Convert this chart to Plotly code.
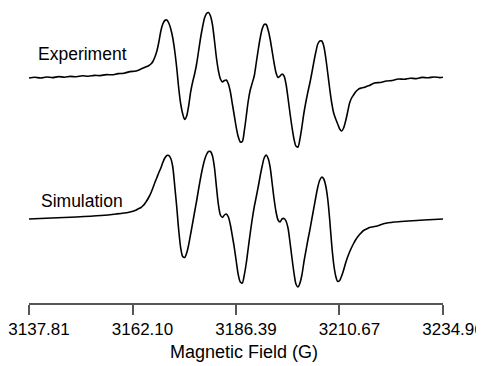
import plotly.graph_objects as go

# ---- Data (field in G, intensity in arbitrary units) ----
# Experiment: left baseline
exp_left_field = [3137.74, 3139.14, 3140.54, 3141.94, 3143.34, 3144.73, 3146.13, 3147.53, 3148.93, 3150.33,
                  3151.73, 3153.13, 3154.53, 3155.93, 3157.32, 3158.72, 3160.12, 3161.52, 3162.92, 3164.32]
exp_left_int = [0.0, 0.7, 0.0, 1.0, 0.4, 1.4, 0.8, 1.6, 1.2, 2.2,
                1.7, 2.6, 2.4, 3.4, 3.2, 4.4, 4.8, 6.4, 7.0, 9.4]

# Signal region field samples (shared by both spectra)
signal_field = [3165.48, 3165.95, 3166.42, 3166.88, 3167.35, 3167.82, 3168.28, 3168.75, 3169.21, 3169.68,
                3170.15, 3170.61, 3171.08, 3171.55, 3172.01, 3172.48, 3172.94, 3173.41, 3173.88, 3174.34,
                3174.81, 3175.27, 3175.74, 3176.21, 3176.67, 3177.14, 3177.61, 3178.07, 3178.54, 3179.00,
                3179.47, 3179.94, 3180.40, 3180.87, 3181.34, 3181.80, 3182.27, 3182.73, 3183.20, 3183.67,
                3184.13, 3184.60, 3185.07, 3185.53, 3186.00, 3186.47, 3186.93, 3187.40, 3187.86, 3188.33,
                3188.80, 3189.26, 3189.73, 3190.20, 3190.66, 3191.13, 3191.59, 3192.06, 3192.53, 3192.99,
                3193.46, 3193.93, 3194.39, 3194.86, 3195.32, 3195.79, 3196.26, 3196.72, 3197.19, 3197.66,
                3198.12, 3198.59, 3199.05, 3199.52, 3199.99, 3200.45, 3200.92, 3201.39, 3201.85, 3202.32,
                3202.78, 3203.25, 3203.72, 3204.18, 3204.65, 3205.12, 3205.58, 3206.05, 3206.52, 3206.98,
                3207.45, 3207.91, 3208.38, 3208.85, 3209.31, 3209.78, 3210.25, 3210.71, 3211.18, 3211.64,
                3212.11, 3212.58, 3213.04, 3213.51, 3213.98, 3214.44, 3214.91, 3215.38, 3215.84, 3216.31,
                3216.77, 3217.24, 3217.71]

exp_signal_int = [11.5, 12.5, 14, 16.5, 21, 27, 36, 47, 54, 57.5,
                  58, 55, 49, 40, 27, 10, -10, -26, -36, -41.5,
                  -38, -28, -14, -4, 4, 14, 27, 40, 51, 60,
                  64.5, 65.5, 62, 53, 37, 20, 7, -1, -4, -2.5,
                  -2, -6, -14, -26, -38, -50, -59, -64, -63.5, -53,
                  -38, -23, -12, -5, 2, 15, 28, 40, 49, 53.5,
                  53.5, 48, 39, 27, 15, 5, 0.5, 2, 4, 2,
                  -6, -20, -35, -49, -61, -68, -69, -61, -49, -35,
                  -24, -14, -5, 5, 16, 26, 34, 37, 37, 32,
                  20, 5, -11, -25, -35, -41, -46, -51, -53, -50,
                  -43, -34, -25, -20, -17, -14, -12, -10.5, -10, -9.5,
                  -9, -8, -7.5]

exp_tail_field = [3218.87, 3220.27, 3221.67, 3223.07, 3224.47, 3225.87, 3227.27, 3228.66, 3230.06,
                  3231.46, 3232.86, 3234.26, 3234.96]
exp_tail_int = [-5.0, -4.5, -3.0, -2.5, -1.0, -1.3, -0.2, -0.6, 0.6, 0.2, 1.0, 0.4, 0.8]

# Simulation
sim_left_field = [3137.74, 3143.10, 3148.93, 3154.76, 3158.26, 3161.05, 3161.99, 3162.69, 3163.38,
                  3164.08, 3164.55, 3165.02]
sim_left_int = [0, 1, 2, 3.5, 5, 6.5, 7.5, 8.5, 10, 11.5, 13.2, 15.6]

sim_signal_int = [18.5, 22, 26, 31, 36.5, 41.5, 46.5, 51, 56.5, 61,
                  63.5, 63.5, 60.5, 52, 33, 12, -11, -29, -37.5, -38.5,
                  -34, -26, -15, -4, 7, 18, 30, 41, 51, 59,
                  64.5, 67.5, 67.5, 63, 51, 32, 14, 4, 1.5, 4,
                  5, 2, -6, -17, -29, -43, -56, -63, -64, -56,
                  -44, -29, -14, 0, 12, 22, 32, 43, 53, 61,
                  64, 60.5, 52, 36, 20, 7, -1, -3, 0, 0.5,
                  -2, -9, -23, -39, -54, -65, -68, -64, -56, -43,
                  -32, -21, -11, 0, 11, 22, 32, 39, 42, 40,
                  33, 20, -1, -26, -45, -57, -62.5, -61.5, -57, -51,
                  -44, -38, -33, -28.5, -24.5, -21, -18, -15.5, -13.5, -11.5,
                  -10.5, -9.5, -8.5]

sim_tail_field = [3219.57, 3221.20, 3223.54, 3226.80, 3230.53, 3234.96]
sim_tail_int = [-7, -4.5, -3, -2, -1, 0]

tick_values = [3137.81, 3162.10, 3186.39, 3210.67, 3234.96]
tick_labels = ["3137.81", "3162.10", "3186.39", "3210.67", "3234.96"]

assert len(signal_field) == len(exp_signal_int) == len(sim_signal_int)

exp_field = exp_left_field + signal_field + exp_tail_field
exp_int = exp_left_int + exp_signal_int + exp_tail_int
sim_field = sim_left_field + signal_field + sim_tail_field
sim_int = sim_left_int + sim_signal_int + sim_tail_int

# vertical stacking offsets for the two spectra
exp_offset = 225
sim_offset = 84

FONT = "Liberation Sans, Arial, sans-serif"

fig = go.Figure()
fig.add_trace(go.Scatter(x=exp_field, y=[v + exp_offset for v in exp_int],
                         mode="lines", line=dict(color="black", width=1.6, shape="spline", smoothing=0.8),
                         name="Experiment", showlegend=False))
fig.add_trace(go.Scatter(x=sim_field, y=[v + sim_offset for v in sim_int],
                         mode="lines", line=dict(color="black", width=1.6, shape="spline", smoothing=0.8),
                         name="Simulation", showlegend=False))

fig.add_annotation(text="Experiment", xref="paper", yref="paper", x=0.018, y=0.844,
                   xanchor="left", yanchor="middle", showarrow=False,
                   font=dict(family=FONT, size=17.5, color="black"))
fig.add_annotation(text="Simulation", xref="paper", yref="paper", x=0.024, y=0.346,
                   xanchor="left", yanchor="middle", showarrow=False,
                   font=dict(family=FONT, size=17.5, color="black"))
fig.add_annotation(text="Magnetic Field (G)", xref="paper", yref="paper", x=0.52, y=-0.166,
                   xanchor="center", yanchor="middle", showarrow=False,
                   font=dict(family=FONT, size=18, color="black"))

fig.update_xaxes(range=[3137.81, 3234.96], tickvals=tick_values, ticktext=tick_labels,
                 showline=True, linecolor="#555555", linewidth=1.5,
                 ticks="outside", ticklen=10, tickwidth=1.5, tickcolor="#555555",
                 showgrid=False, zeroline=False, ticklabelshift=10,
                 ticklabeloverflow="allow",
                 tickfont=dict(family=FONT, size=17, color="black"))
fig.update_yaxes(range=[0, 295], visible=False, showgrid=False, zeroline=False)

fig.update_layout(width=476, height=358, margin=dict(l=19, r=40, t=0, b=63),
                  plot_bgcolor="white", paper_bgcolor="white")

fig.write_html("out.html")
